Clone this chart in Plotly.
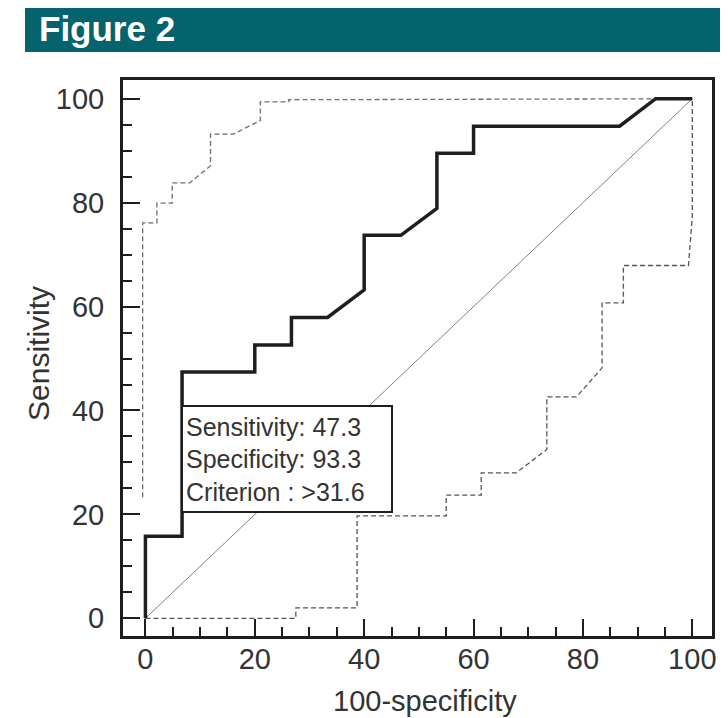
import plotly.graph_objects as go

# ---- data ----
roc_x = [0, 0, 6.7, 6.7, 20, 20, 26.7, 26.7, 33.3, 40, 40, 46.7, 53.3, 53.3, 60, 60, 86.7, 93.3, 100]
roc_y = [0, 15.8, 15.8, 47.4, 47.4, 52.6, 52.6, 57.9, 57.9, 63.2, 73.7, 73.7, 78.9, 89.5, 89.5, 94.7, 94.7, 100, 100]

upper_x = [-0.5, -0.5, 2.1, 2.1, 4.9, 4.9, 8.1, 11.9, 11.9, 16.1, 21.0, 21.0, 26.2, 26.2, 100]
upper_y = [23.3, 76.1, 76.1, 79.9, 79.9, 83.8, 83.8, 87.1, 93.2, 93.2, 95.8, 99.4, 99.4, 99.8, 100]

lower_x = [0, 27.5, 27.5, 38.7, 38.7, 55, 55, 61.4, 61.4, 67.8, 73.4, 73.4, 78.8, 83.5, 83.5, 87.4, 87.4, 99.3, 100, 100]
lower_y = [0, 0, 2, 2, 19.7, 19.7, 23.7, 23.7, 28, 28, 32.5, 42.6, 42.6, 48.2, 60.7, 60.7, 67.9, 67.9, 77.4, 100]

diag_x = [0, 100]
diag_y = [0, 100]

tick_vals = [0, 20, 40, 60, 80, 100]
tick_text = ["0", "20", "40", "60", "80", "100"]

box_lines = ["Sensitivity: 47.3", "Specificity: 93.3", "Criterion : >31.6"]
box_x, box_y = 6.5, 41.0

title_text = "Figure 2"
x_title = "100-specificity"
y_title = "Sensitivity"

# ---- layout geometry (pixels in the 728x718 page) ----
PAGE_W, PAGE_H = 728, 718
BODY = 8  # default page margin around the plot div
W, H = PAGE_W - BODY, PAGE_H - BODY
PL, PR, PT, PB = 123, 712, 80, 636  # plot area in page pixels


def px_x(p):
    return (p - PL) / (PR - PL)


def px_y(p):
    return (PB - p) / (PB - PT)


FONT = "Liberation Sans, Arial, Helvetica, sans-serif"
TXT = "#333333"

fig = go.Figure()
fig.add_trace(go.Scatter(x=diag_x, y=diag_y, mode="lines",
                         line=dict(color="#808080", width=1), hoverinfo="skip"))
fig.add_trace(go.Scatter(x=upper_x, y=upper_y, mode="lines",
                         line=dict(color="#6e6e6e", width=1.3, dash="5px,3px"), hoverinfo="skip"))
fig.add_trace(go.Scatter(x=lower_x, y=lower_y, mode="lines",
                         line=dict(color="#555555", width=1.3, dash="5px,3px"), hoverinfo="skip"))
fig.add_trace(go.Scatter(x=roc_x, y=roc_y, mode="lines",
                         line=dict(color="#1e1e1e", width=3.5), hoverinfo="skip"))

axis_common = dict(
    showgrid=False, zeroline=False,
    showline=True, linecolor="#1e1e1e", linewidth=3, mirror=True,
    ticks="inside", ticklen=17, tickwidth=2, tickcolor="#1e1e1e",
    tickvals=tick_vals, ticktext=tick_text,
    tickfont=dict(family=FONT, size=29, color=TXT),
    minor=dict(ticks="inside", ticklen=9, tickwidth=2, tickcolor="#1e1e1e", dtick=5, tick0=0),
    fixedrange=True,
)

fig.update_layout(
    width=W, height=H,
    margin=dict(l=PL - BODY, r=PAGE_W - PR, t=PT - BODY, b=PAGE_H - PB, pad=0),
    paper_bgcolor="white", plot_bgcolor="white",
    showlegend=False,
    xaxis=dict(range=[-4.1, 103.6], ticklabelstandoff=-5, **axis_common),
    yaxis=dict(range=[-3.4, 103.6], ticklabelstandoff=10, **axis_common),
)

# header band
fig.add_shape(type="rect", xref="paper", yref="paper",
              x0=px_x(25), x1=px_x(740), y0=px_y(52), y1=px_y(-10),
              fillcolor="#04636d", line=dict(width=0), layer="below")
fig.add_annotation(text="<b>" + title_text + "</b>", xref="paper", yref="paper",
                   x=px_x(38), y=px_y(BODY), xanchor="left", yanchor="top",
                   showarrow=False, borderpad=0,
                   font=dict(family=FONT, size=35, color="white"))

# axis titles
fig.add_annotation(text=y_title, xref="paper", yref="paper",
                   x=px_x(38), y=px_y(354), xanchor="center", yanchor="middle",
                   textangle=-90, showarrow=False, font=dict(family=FONT, size=30, color=TXT))
fig.add_annotation(text=x_title, xref="paper", yref="paper",
                   x=px_x(425), y=px_y(PAGE_H), xanchor="center", yanchor="bottom",
                   showarrow=False, borderpad=0,
                   font=dict(family=FONT, size=29, color=TXT))

# criterion box
fig.add_annotation(text="<br>".join(box_lines), xref="x", yref="y",
                   x=box_x, y=box_y, xanchor="left", yanchor="top",
                   showarrow=False, align="left", width=202, height=98,
                   bgcolor="white", bordercolor="#1e1e1e", borderwidth=2, borderpad=3,
                   font=dict(family=FONT, size=25, color=TXT))

fig.write_html("out.html")
